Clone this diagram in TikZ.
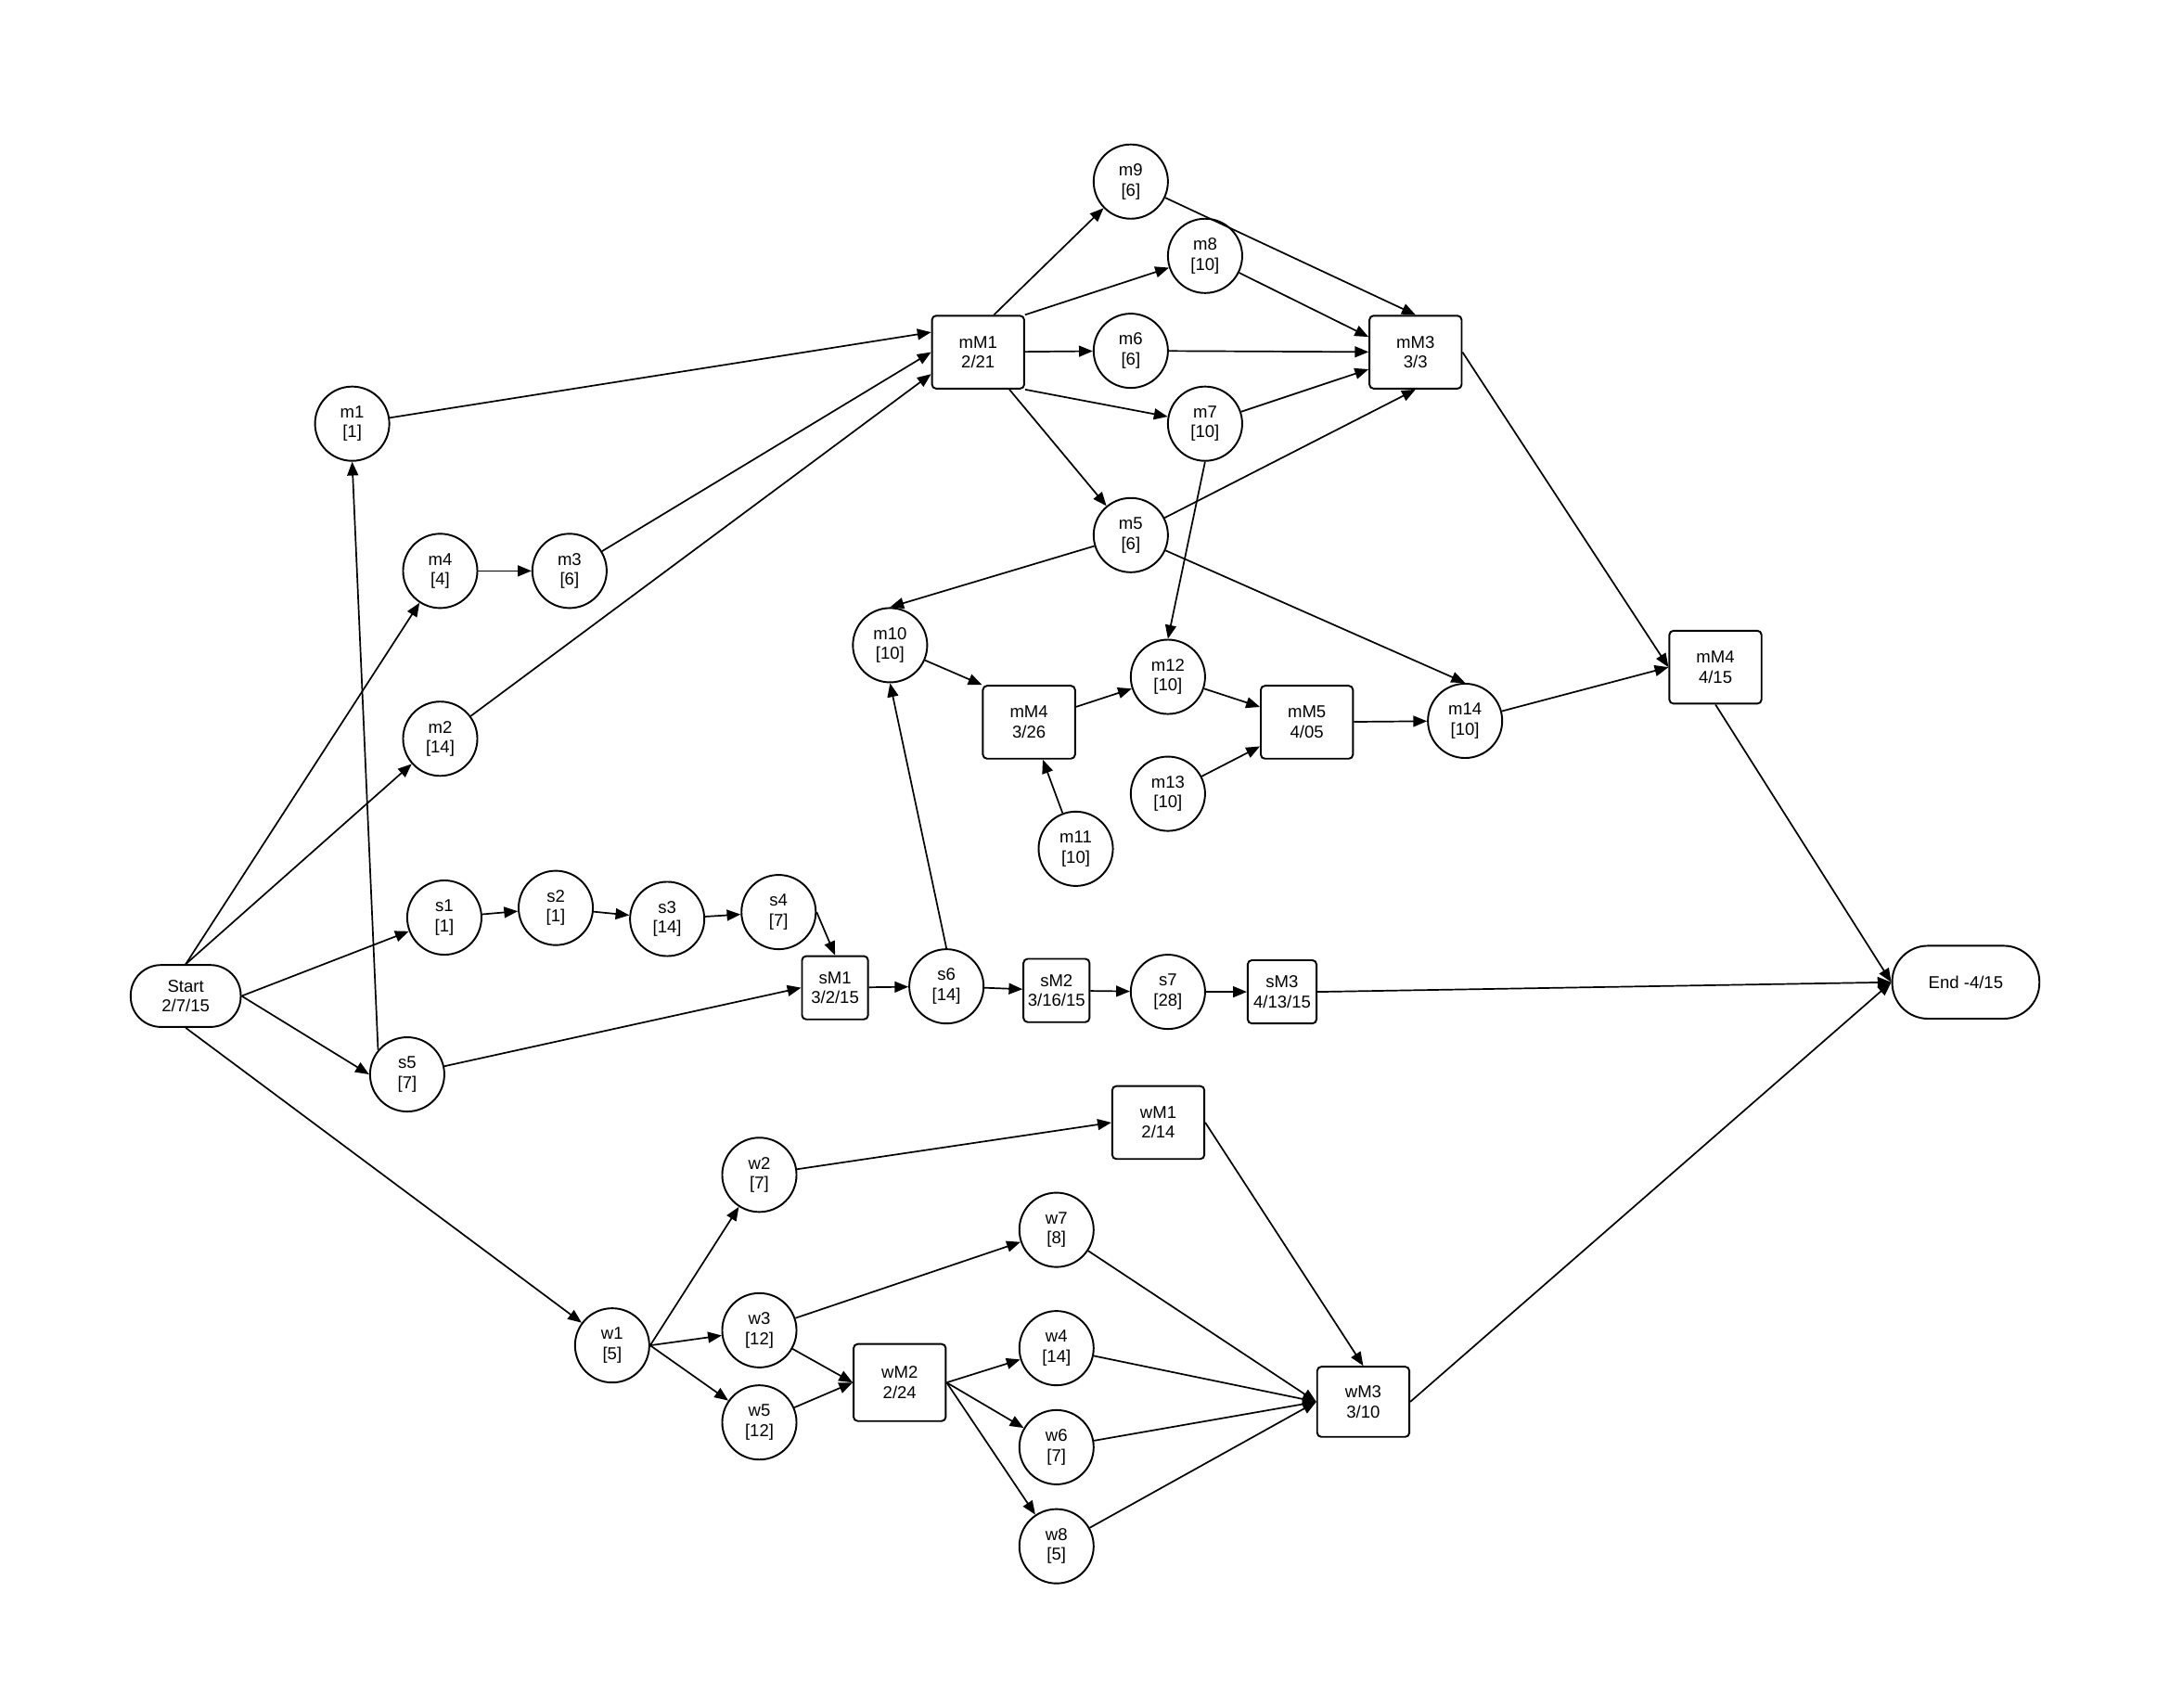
\documentclass[tikz,border=0pt]{standalone}
\usepackage{fontspec}
\setmainfont{Liberation Sans}
\usetikzlibrary{arrows.meta}

\begin{document}
\begin{tikzpicture}[
  x=1pt, y=-1pt,
  font=\fontsize{12.5}{14.5}\selectfont,
  >={Triangle[length=10pt,width=8pt]},
  task/.style={draw, line width=1.3pt, circle, minimum size=54pt,
    inner sep=0pt, align=center},
  milestone/.style={draw, line width=1.3pt, rounded corners=3pt,
    minimum width=67pt, minimum height=53pt, inner sep=2pt, align=center},
  smallstone/.style={milestone, minimum width=48pt, minimum height=46pt},
  terminal/.style={draw, line width=1.3pt, rounded corners=22pt,
    minimum width=80pt, minimum height=45pt, align=center},
  arrow/.style={->, line width=1.15pt}
]
  \useasboundingbox (0,0) rectangle (1568,1241);

  \node[terminal] (start) at (135,724) {Start\\2/7/15};
  \node[terminal, minimum width=107pt, minimum height=53pt,
    rounded corners=26pt] (end) at (1429,714) {End -4/15};

  % m branch
  \node[task] (m1) at (256,308) {m1\\{[1]}};
  \node[task] (m4) at (320,415) {m4\\{[4]}};
  \node[task] (m3) at (414,415) {m3\\{[6]}};
  \node[task] (m2) at (320,537) {m2\\{[14]}};
  \node[milestone] (mM1) at (711,256) {mM1\\2/21};
  \node[task] (m9) at (822,132) {m9\\{[6]}};
  \node[task] (m8) at (876,186) {m8\\{[10]}};
  \node[task] (m6) at (822,255) {m6\\{[6]}};
  \node[task] (m7) at (876,308) {m7\\{[10]}};
  \node[task] (m5) at (822,389) {m5\\{[6]}};
  \node[milestone] (mM3) at (1029,256) {mM3\\3/3};
  \node[task] (m10) at (647,469) {m10\\{[10]}};
  \node[milestone] (mM4a) at (748,525) {mM4\\3/26};
  \node[task] (m11) at (782,617) {m11\\{[10]}};
  \node[task] (m12) at (849,492) {m12\\{[10]}};
  \node[task] (m13) at (849,577) {m13\\{[10]}};
  \node[milestone] (mM5) at (950,525) {mM5\\4/05};
  \node[task] (m14) at (1065,524) {m14\\{[10]}};
  \node[milestone] (mM4b) at (1247,485) {mM4\\4/15};

  % s branch
  \node[task] (s1) at (323,667) {s1\\{[1]}};
  \node[task] (s2) at (404,660) {s2\\{[1]}};
  \node[task] (s3) at (485,668) {s3\\{[14]}};
  \node[task] (s4) at (566,663) {s4\\{[7]}};
  \node[task] (s5) at (296,781) {s5\\{[7]}};
  \node[smallstone] (sM1) at (607,718) {sM1\\3/2/15};
  \node[task] (s6) at (688,717) {s6\\{[14]}};
  \node[smallstone] (sM2) at (768,720) {sM2\\3/16/15};
  \node[task] (s7) at (849,721) {s7\\{[28]}};
  \node[smallstone, minimum width=50pt] (sM3) at (932,721) {sM3\\4/13/15};

  % w branch
  \node[task] (w1) at (445,978) {w1\\{[5]}};
  \node[task] (w2) at (552,854) {w2\\{[7]}};
  \node[task] (w3) at (552,967) {w3\\{[12]}};
  \node[task] (w5) at (552,1034) {w5\\{[12]}};
  \node[milestone] (wM1) at (842,816) {wM1\\2/14};
  \node[milestone, minimum height=56pt] (wM2) at (654,1005) {wM2\\2/24};
  \node[task] (w7) at (768,894) {w7\\{[8]}};
  \node[task] (w4) at (768,980) {w4\\{[14]}};
  \node[task] (w6) at (768,1052) {w6\\{[7]}};
  \node[task] (w8) at (768,1124) {w8\\{[5]}};
  \node[milestone, minimum height=51pt] (wM3) at (991,1019) {wM3\\3/10};

  % connectors out of start
  \draw[arrow] (start.north) -- (m4);
  \draw[arrow] (start.north) -- (m2);
  \draw[arrow] (start.east) -- (s1);
  \draw[arrow] (start.east) -- (s5.west);
  \draw[arrow] (start.south) -- (w1);
  \draw[arrow] (s5.140) -- (m1.south);

  % m connectors
  \draw[arrow] (m1) -- (mM1.157);
  \draw[arrow] (m4) -- (m3);
  \draw[arrow] (m3) -- (mM1.west);
  \draw[arrow] (m2) -- (mM1.205);
  \draw[arrow] (mM1.67) -- (m9);
  \draw[arrow] (mM1.north east) -- (m8);
  \draw[arrow] (mM1) -- (m6);
  \draw[arrow] (mM1.south east) -- (m7);
  \draw[arrow] (mM1.310) -- (m5);
  \draw[arrow] (m9) -- (mM3.north);
  \draw[arrow] (m8) -- (mM3.162);
  \draw[arrow] (m6) -- (mM3);
  \draw[arrow] (m7) -- (mM3.200);
  \draw[arrow] (m5) -- (mM3.south);
  \draw[arrow] (m7.south) -- (m12.north);
  \draw[arrow] (m5) -- (m10.north);
  \draw[arrow] (m5) -- (m14.north);
  \draw[arrow] (m10) -- (mM4a.north west);
  \draw[arrow] (m11) -- (mM4a);
  \draw[arrow] (mM4a) -- (m12);
  \draw[arrow] (m12) -- (mM5);
  \draw[arrow] (m13) -- (mM5);
  \draw[arrow] (mM5) -- (m14);
  \draw[arrow] (m14) -- (mM4b.west);
  \draw[arrow] (mM3.east) -- (mM4b.west);
  \draw[arrow] (mM4b.south) -- (end.west);

  % s connectors
  \draw[arrow] (s1) -- (s2);
  \draw[arrow] (s2) -- (s3);
  \draw[arrow] (s3) -- (s4);
  \draw[arrow] (s4.east) -- (sM1.north);
  \draw[arrow] (s5) -- (sM1.west);
  \draw[arrow] (sM1) -- (s6);
  \draw[arrow] (s6) -- (sM2);
  \draw[arrow] (sM2) -- (s7);
  \draw[arrow] (s7) -- (sM3);
  \draw[arrow] (sM3.east) -- (end.west);
  \draw[arrow] (s6.north) -- (m10.south);

  % w connectors
  \draw[arrow] (w1.east) -- (w2);
  \draw[arrow] (w1.east) -- (w3);
  \draw[arrow] (w1.east) -- (w5);
  \draw[arrow] (w2) -- (wM1.west);
  \draw[arrow] (w3) -- (w7);
  \draw[arrow] (w3) -- (wM2.west);
  \draw[arrow] (w5) -- (wM2.west);
  \draw[arrow] (wM2.east) -- (w4);
  \draw[arrow] (wM2.east) -- (w6);
  \draw[arrow] (wM2.east) -- (w8);
  \draw[arrow] (wM1.east) -- (wM3.north);
  \draw[arrow] (w7) -- (wM3.west);
  \draw[arrow] (w4) -- (wM3.west);
  \draw[arrow] (w6) -- (wM3.west);
  \draw[arrow] (w8) -- (wM3.west);
  \draw[arrow] (wM3.east) -- (end.west);
\end{tikzpicture}
\end{document}
